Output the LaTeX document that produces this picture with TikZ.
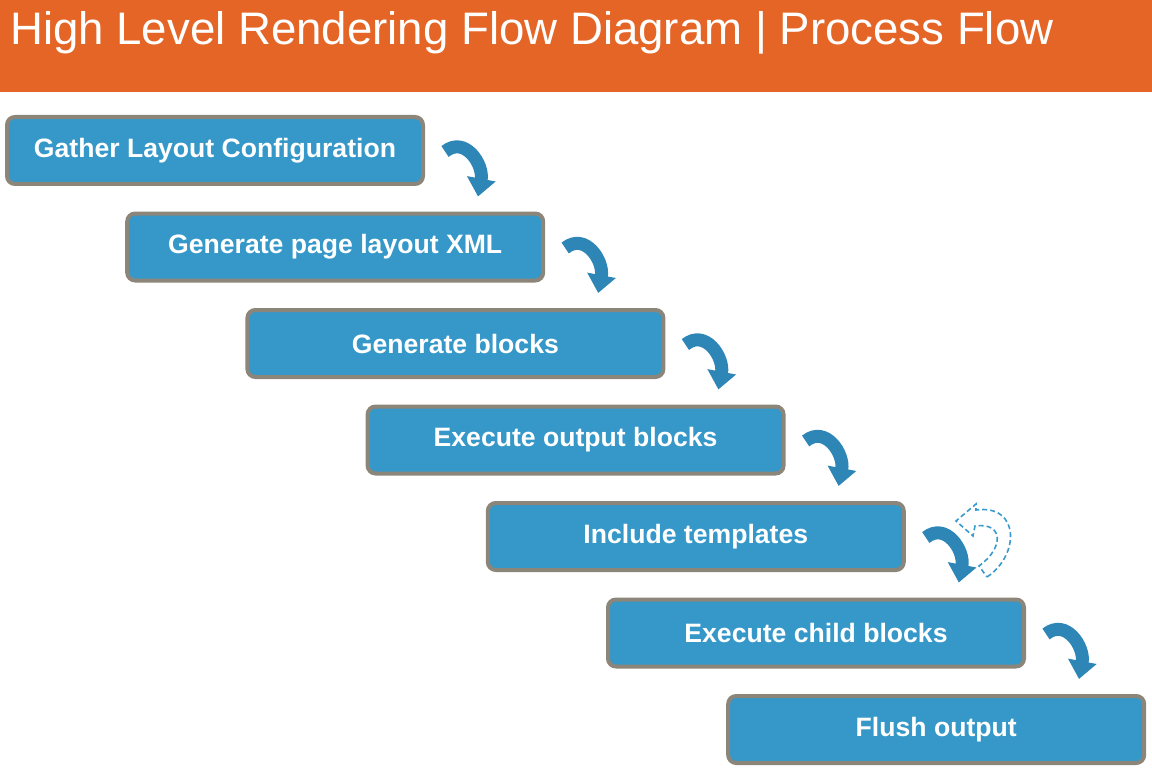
\documentclass[tikz,border=0pt]{standalone}
\usepackage{fontspec}
\setmainfont{Liberation Sans}
\usetikzlibrary{calc, arrows.meta}
\definecolor{bandorange}{HTML}{E46525}
\definecolor{boxblue}{HTML}{3598C8}
\definecolor{boxrim}{HTML}{8C8579}
\definecolor{arrowblue}{HTML}{2E86B7}
\definecolor{dashblue}{HTML}{3A9ACB}

\begin{document}
\begin{tikzpicture}[x=1pt, y=-1pt,
        stepbox/.style={draw=boxrim, fill=boxblue, line width=4pt, rounded corners=8pt,
            minimum width=416pt, minimum height=67pt, inner sep=0pt,
            text=white, font=\fontsize{26.6}{30}\selectfont\bfseries},
        flowarrow/.style={draw=arrowblue, line width=13pt,
            -{Triangle[length=18pt, width=28pt]}}]
            \useasboundingbox (0,0) rectangle (1152,773);
            % header band
            \fill[bandorange] (0,0) rectangle (1152,92);
            \node[anchor=base west, text=white, font=\fontsize{45.6}{50}\selectfont, inner sep=0pt] (title) at (10,45) {High Level Rendering Flow Diagram | Process Flow};
            % steps
            \foreach \i/\txt in {1/Gather Layout Configuration, 2/Generate page layout XML,
                3/Generate blocks, 4/Execute output blocks, 5/Include templates,
                6/Execute child blocks, 7/Flush output}
                \node[stepbox] (s\i) at ({215+120.2*(\i-1)}, {150.5+96.5*(\i-1)}) {\txt};
            % arrows between steps
            \foreach \i in {1,...,6}
                \draw[flowarrow] ($(s\i.east)+(20,1)$) .. controls +(20,-16) and +(6,-32) .. ($(s\i.east)+(53,46)$);
            % dashed loop back to the templates step
            \draw[dashblue, line width=1.6pt, dash pattern=on 5pt off 3pt, fill=white]
                (987,577) .. controls (1020,555) and (1020,504) .. (976,510)
                -- (976,504) -- (956,521) -- (973,536) -- (975,526)
                .. controls (1004,522) and (1004,548) .. (979,566) -- cycle;
        \end{tikzpicture}
\end{document}
